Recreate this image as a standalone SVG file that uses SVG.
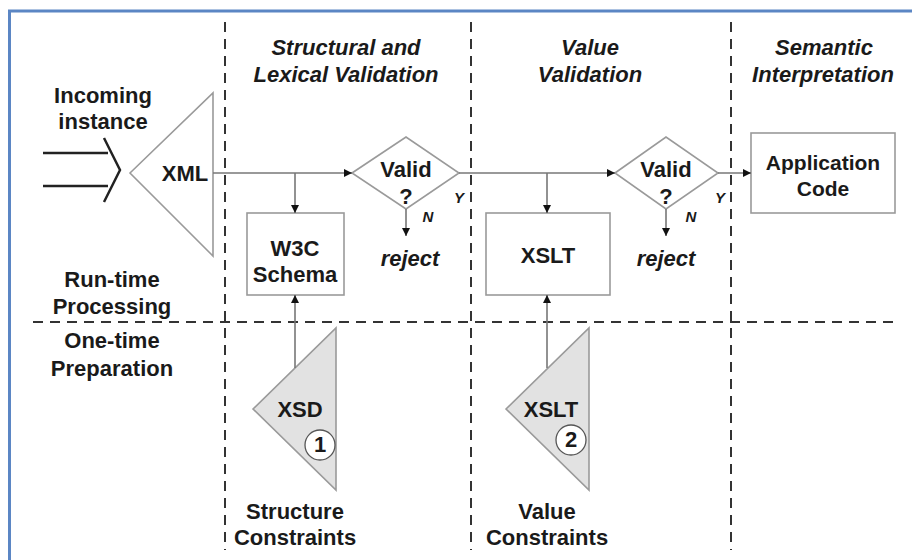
<svg xmlns="http://www.w3.org/2000/svg" width="918" height="560" viewBox="0 0 918 560">
<style>
text{font-family:"Liberation Sans",Arial,sans-serif;font-weight:bold;fill:#1a1a1a;text-anchor:middle}
.h{font-size:22px;font-style:italic}
.t{font-size:22px}
.s{font-size:21px}
.yn{font-size:15px;font-style:italic}
.box{fill:#fff;stroke:#9a9a9a;stroke-width:1.6}
.tri{fill:#e2e2e2;stroke:#9a9a9a;stroke-width:1.6}
.dash{stroke:#333;stroke-width:2;stroke-dasharray:10,7;fill:none}
.ar{stroke:#777;stroke-width:1.6;fill:none;marker-end:url(#ah)}
</style>
<defs>
<marker id="ah" viewBox="0 0 10 10" refX="10" refY="5" markerWidth="8" markerHeight="8" markerUnits="userSpaceOnUse" orient="auto"><path d="M0,0 L10,5 L0,10 z" fill="#111"/></marker>
</defs>
<rect width="918" height="560" fill="#fff"/>
<g id="frame"><path d="M9.5,560 V11 H912" fill="none" stroke="#5b86c4" stroke-width="3"/></g>
<g id="swimlanes">
<line class="dash" x1="225" y1="22" x2="225" y2="550"/>
<line class="dash" x1="471" y1="22" x2="471" y2="550"/>
<line class="dash" x1="731" y1="22" x2="731" y2="550"/>
<line class="dash" x1="33" y1="322" x2="893" y2="322"/>
</g>
<g id="headers">
<text class="h" x="346" y="55">Structural and</text>
<text class="h" x="346" y="82">Lexical Validation</text>
<text class="h" x="590" y="55">Value</text>
<text class="h" x="590" y="82">Validation</text>
<text class="h" x="824" y="55">Semantic</text>
<text class="h" x="823" y="82">Interpretation</text>
<text class="t" x="103" y="103">Incoming</text>
<text class="t" x="103" y="129">instance</text>
<text class="t" x="112" y="287">Run-time</text>
<text class="t" x="112" y="314">Processing</text>
<text class="t" x="112" y="348">One-time</text>
<text class="t" x="112" y="376">Preparation</text>
</g>
<g id="incoming">
<line x1="43" y1="153" x2="108" y2="153" stroke="#222" stroke-width="2.5"/>
<line x1="43" y1="186" x2="108" y2="186" stroke="#222" stroke-width="2.5"/>
<polyline points="104,138 120,170 104,202" fill="none" stroke="#222" stroke-width="2.5"/>
</g>
<g id="xml"><polygon class="box" points="130,173 213,93 213,256"/><text class="t" x="185" y="181">XML</text></g>
<g id="w3c"><rect class="box" x="247" y="213" width="97" height="82"/><text class="t" x="295" y="256">W3C</text><text class="t" x="295" y="282">Schema</text></g>
<g id="valid1"><polygon class="box" points="352,173 406,137 459,173 406,209"/><text class="t" x="406" y="177">Valid</text><text class="t" x="406" y="204">?</text></g>
<g id="reject1"><text class="h" x="410" y="266">reject</text></g>
<g id="xslt"><rect class="box" x="486" y="213" width="124" height="82"/><text class="t" x="548" y="263">XSLT</text></g>
<g id="valid2"><polygon class="box" points="615,173 666,137 718,173 666,209"/><text class="t" x="666" y="177">Valid</text><text class="t" x="666" y="204">?</text></g>
<g id="reject2"><text class="h" x="666" y="266">reject</text></g>
<g id="app"><rect class="box" x="751" y="133" width="144" height="80"/><text class="s" x="823" y="170">Application</text><text class="s" x="823" y="196">Code</text></g>
<g id="xsd"><polygon class="tri" points="253,409 336,328 336,490"/><text class="t" x="300" y="417">XSD</text><circle cx="320" cy="445" r="15" fill="#fff" stroke="#555" stroke-width="1.3"/><text class="t" x="320" y="452">1</text></g>
<g id="xslt2"><polygon class="tri" points="506,409 589,328 589,490"/><text class="t" x="551" y="417">XSLT</text><circle cx="571" cy="440" r="15" fill="#fff" stroke="#555" stroke-width="1.3"/><text class="t" x="571" y="447">2</text></g>
<g id="labels">
<text class="t" x="295" y="519">Structure</text><text class="t" x="295" y="545">Constraints</text>
<text class="t" x="547" y="519">Value</text><text class="t" x="547" y="545">Constraints</text>
<text class="yn" x="428" y="222">N</text><text class="yn" x="459" y="203">Y</text>
<text class="yn" x="691" y="222">N</text><text class="yn" x="720" y="203">Y</text>
</g>
<g id="connectors">
<line class="ar" x1="213" y1="173" x2="352" y2="173"/>
<line class="ar" x1="295" y1="173" x2="295" y2="213"/>
<line class="ar" x1="406" y1="209" x2="406" y2="236"/>
<line class="ar" x1="459" y1="173" x2="615" y2="173"/>
<line class="ar" x1="547" y1="173" x2="547" y2="213"/>
<line class="ar" x1="666" y1="209" x2="666" y2="236"/>
<line class="ar" x1="718" y1="173" x2="751" y2="173"/>
<line class="ar" x1="295" y1="368" x2="295" y2="295"/>
<line class="ar" x1="547" y1="368" x2="547" y2="295"/>
</g>
</svg>
